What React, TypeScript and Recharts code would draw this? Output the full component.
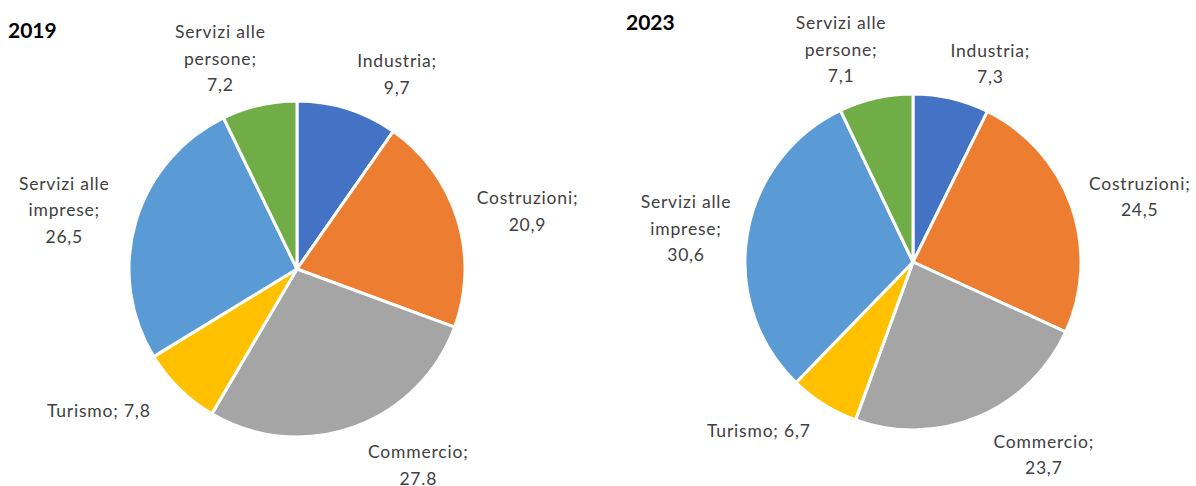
import React from "react";
import { PieChart, Pie, Cell } from "recharts";

const categories = [
  "Industria",
  "Costruzioni",
  "Commercio",
  "Turismo",
  "Servizi alle imprese",
  "Servizi alle persone",
];
const values2019 = [9.7, 20.9, 27.8, 7.8, 26.5, 7.2];
const values2023 = [7.3, 24.5, 23.7, 6.7, 30.6, 7.1];
const valueLabels2019 = ["9,7", "20,9", "27.8", "7,8", "26,5", "7,2"];
const valueLabels2023 = ["7,3", "24,5", "23,7", "6,7", "30,6", "7,1"];
const colors = ["#4472C4", "#ED7D31", "#A5A5A5", "#FFC000", "#5B9BD5", "#70AD47"];

// label text lines per category (layout only)
const labelLines = (name: string, v: string): string[] => {
  if (name === "Turismo") return [`${name}; ${v}`];
  if (name.startsWith("Servizi alle ")) {
    return ["Servizi alle", name.replace("Servizi alle ", "") + ";", v];
  }
  return [`${name};`, v];
};

// label nudges relative to radial position (layout only)
const nudges2019 = [
  [31, 24],
  [11, 10],
  [44, -21],
  [-37, -23],
  [-12, 5],
  [-25, 13],
];
const nudges2023 = [
  [25, 25],
  [10, 11],
  [42, -20],
  [-32, -27],
  [0, 3],
  [-21, 11],
];

const RAD = Math.PI / 180;
const FONT = "Lato, 'Open Sans', sans-serif";

const makeLabel =
  (valueLabels: string[], nudges: number[][]) => (props: any) => {
    const { cx, cy, midAngle, outerRadius, index, name } = props;
    const R = outerRadius + 62;
    const x = cx + R * Math.cos(-midAngle * RAD) + nudges[index][0];
    const y = cy + R * Math.sin(-midAngle * RAD) + nudges[index][1];
    const lines = labelLines(name, valueLabels[index]);
    const lh = 26.5;
    const y0 = y - ((lines.length - 1) * lh) / 2;
    return (
      <text
        key={`lbl-${index}`}
        x={x}
        y={y0}
        textAnchor="middle"
        dominantBaseline="central"
        fill="#404040"
        fontFamily={FONT}
        fontSize={17.5}
        letterSpacing={0.8}
      >
        {lines.map((l, i) => (
          <tspan key={i} x={x} y={y0 + i * lh}>
            {l}
          </tspan>
        ))}
      </text>
    );
  };

const data2019 = categories.map((name, i) => ({ name, value: values2019[i] }));
const data2023 = categories.map((name, i) => ({ name, value: values2023[i] }));

export default function App() {
  return (
    <div
      style={{
        position: "absolute",
        left: 0,
        top: 0,
        width: 1196,
        height: 486,
        background: "#ffffff",
        overflow: "hidden",
      }}
    >
      <PieChart width={1196} height={486} margin={{ top: 0, right: 0, bottom: 0, left: 0 }}>
        <Pie
          data={data2019}
          dataKey="value"
          nameKey="name"
          cx={297}
          cy={269}
          outerRadius={168}
          startAngle={90}
          endAngle={-270}
          stroke="#ffffff"
          strokeWidth={3}
          labelLine={false}
          label={makeLabel(valueLabels2019, nudges2019)}
          isAnimationActive={false}
        >
          {data2019.map((d, i) => (
            <Cell key={d.name} fill={colors[i]} />
          ))}
        </Pie>
        <Pie
          data={data2023}
          dataKey="value"
          nameKey="name"
          cx={913}
          cy={262}
          outerRadius={168}
          startAngle={90}
          endAngle={-270}
          stroke="#ffffff"
          strokeWidth={3}
          labelLine={false}
          label={makeLabel(valueLabels2023, nudges2023)}
          isAnimationActive={false}
        >
          {data2023.map((d, i) => (
            <Cell key={d.name} fill={colors[i]} />
          ))}
        </Pie>
      </PieChart>
      <div
        style={{
          position: "absolute",
          left: 8,
          top: 18,
          fontFamily: FONT,
          fontWeight: 700,
          fontSize: 21,
          lineHeight: "24px",
          color: "#000",
        }}
      >
        2019
      </div>
      <div
        style={{
          position: "absolute",
          left: 626,
          top: 10,
          fontFamily: FONT,
          fontWeight: 700,
          fontSize: 21,
          lineHeight: "24px",
          color: "#000",
        }}
      >
        2023
      </div>
    </div>
  );
}
